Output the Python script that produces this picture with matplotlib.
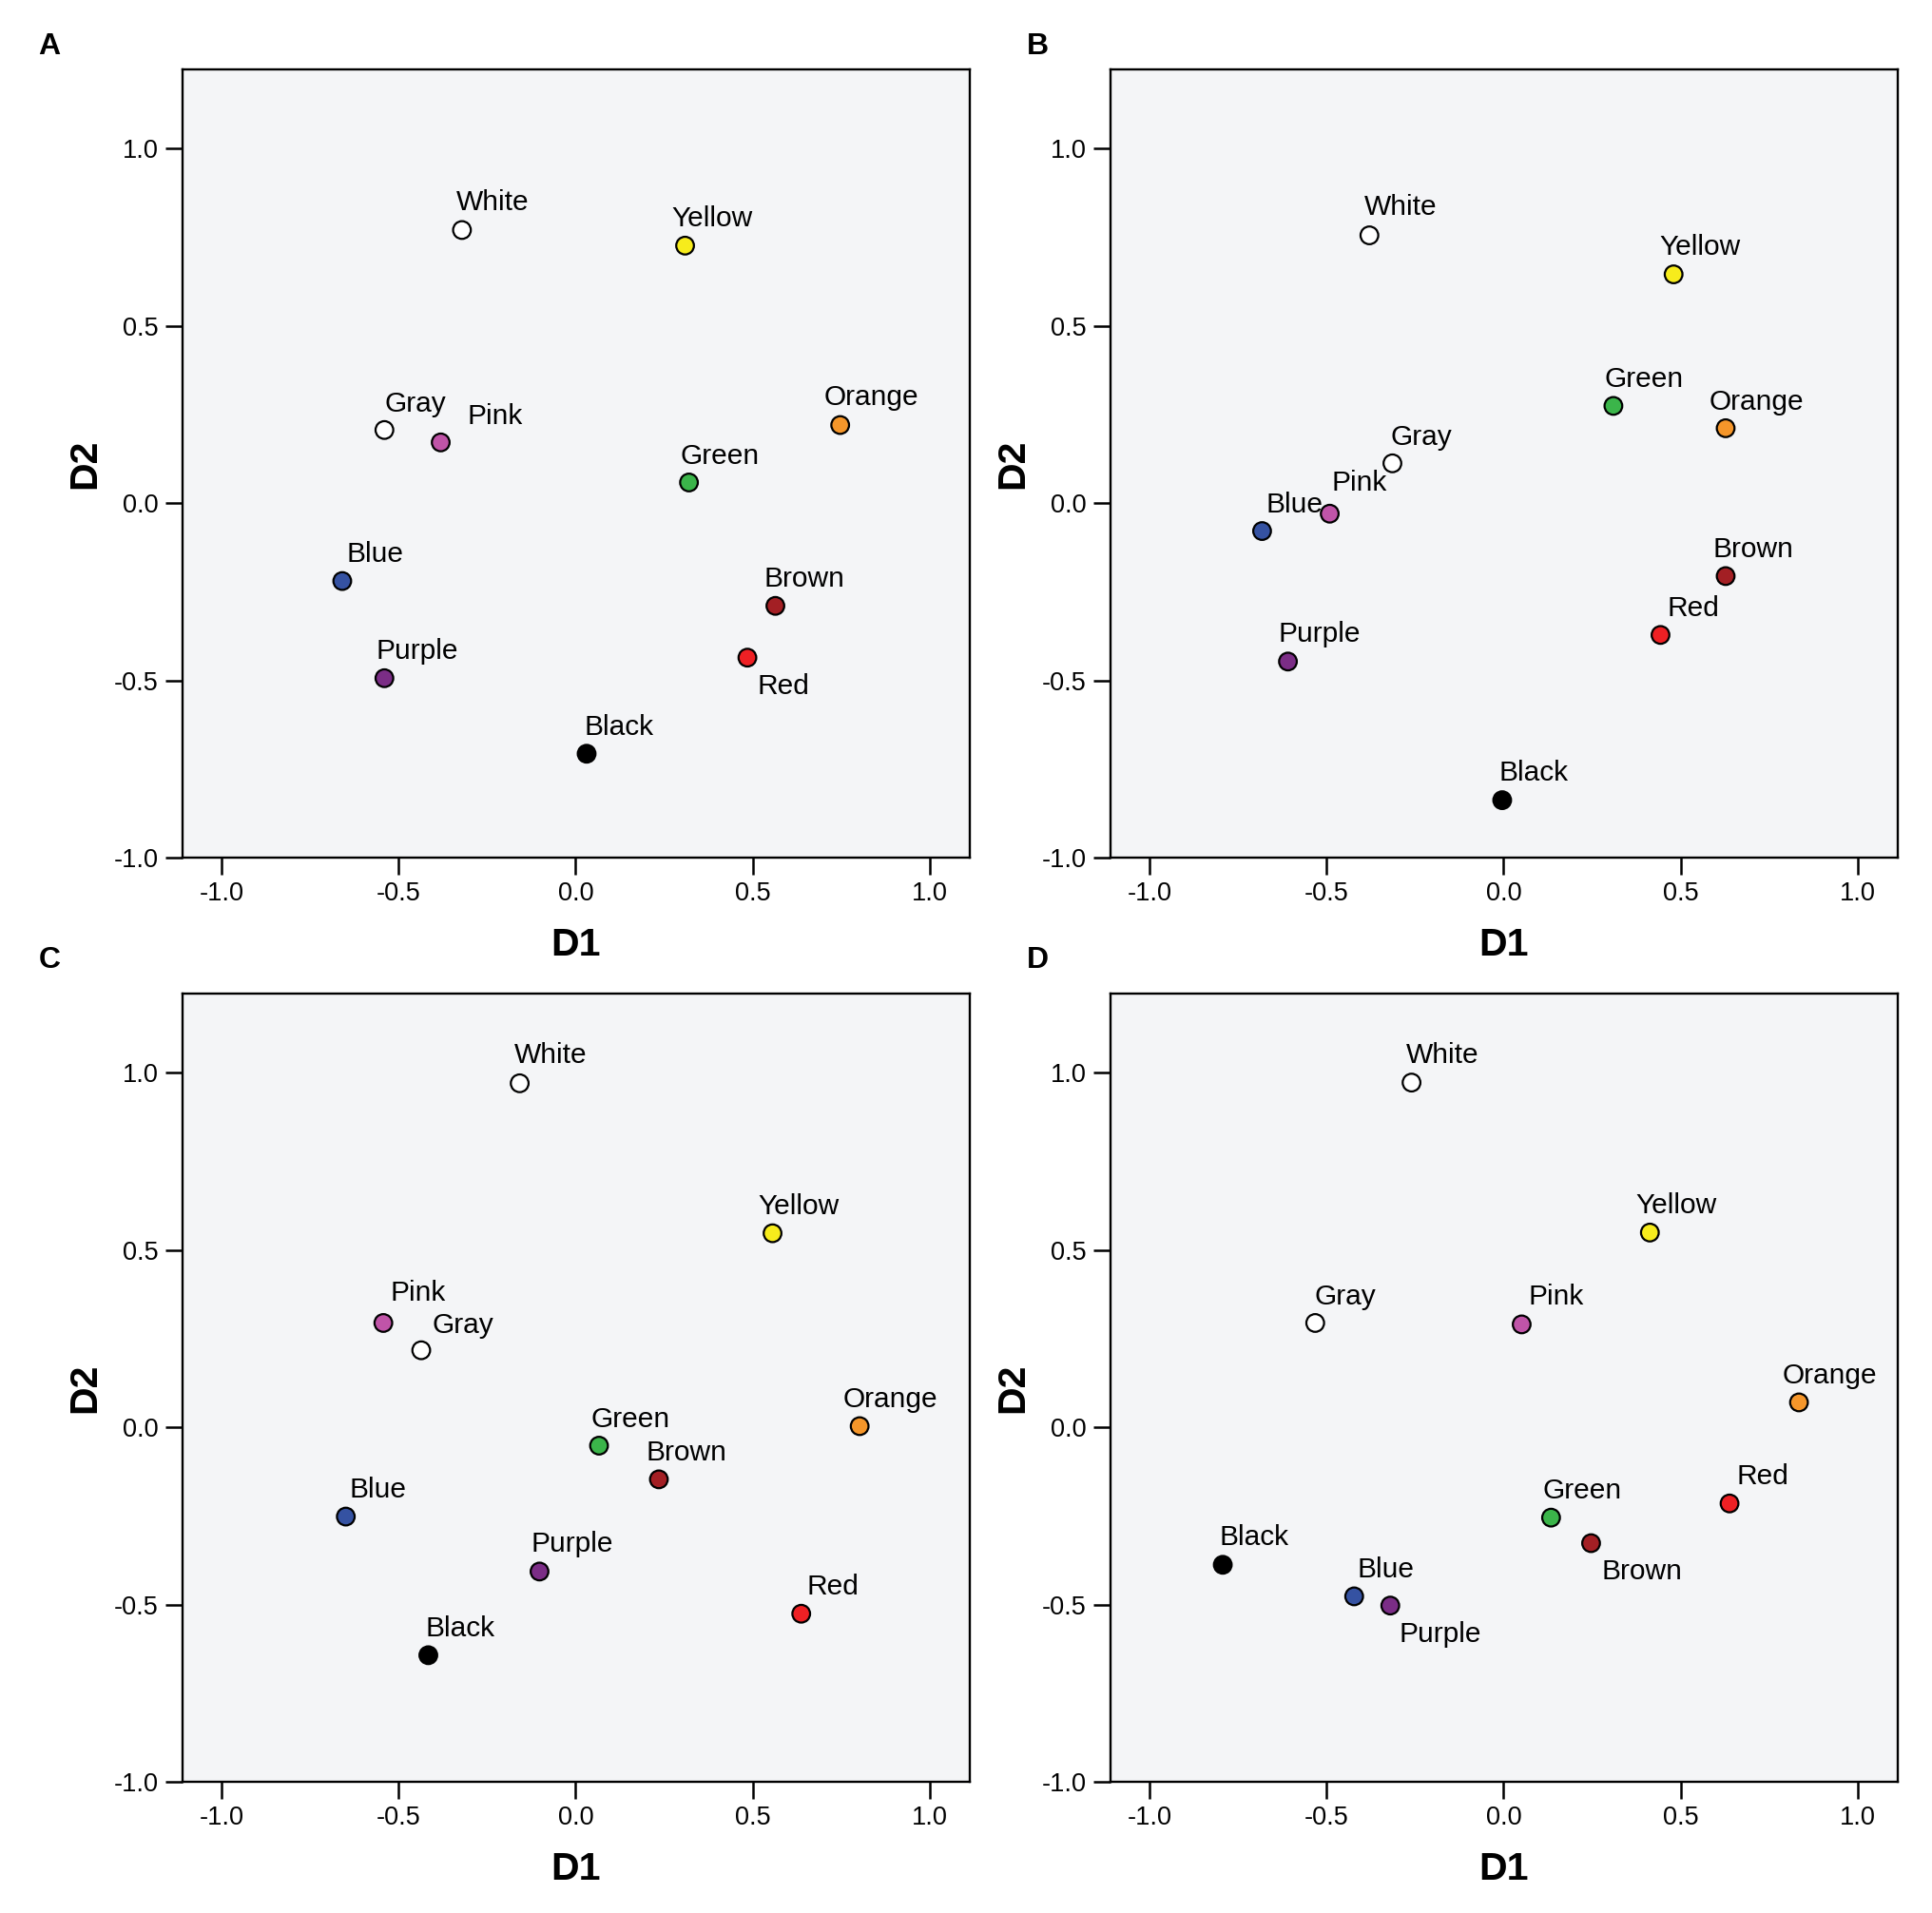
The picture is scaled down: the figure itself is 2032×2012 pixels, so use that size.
import matplotlib
matplotlib.use("Agg")
import matplotlib.pyplot as plt

plt.rcParams['font.family'] = ['Liberation Sans', 'DejaVu Sans']

# ------------------------
# DATA (D1, D2 for each colour term, per panel)
# ------------------------
names = ["White", "Yellow", "Gray", "Pink", "Orange", "Green",
         "Blue", "Brown", "Purple", "Red", "Black"]

fill = {
    "White": "#ffffff", "Yellow": "#f7ec1c", "Gray": "#ffffff",
    "Pink": "#c054a8", "Orange": "#f5962a", "Green": "#3bb54a",
    "Blue": "#3552a2", "Brown": "#a31f24", "Purple": "#7b2d86",
    "Red": "#ee2024", "Black": "#000000",
}

a_d1 = [-0.321, 0.309, -0.540, -0.381, 0.747, 0.320, -0.659, 0.564, -0.540, 0.485, 0.031]
a_d2 = [0.770, 0.726, 0.206, 0.171, 0.220, 0.058, -0.220, -0.290, -0.494, -0.436, -0.707]

b_d1 = [-0.379, 0.480, -0.314, -0.491, 0.627, 0.310, -0.682, 0.627, -0.609, 0.443, -0.004]
b_d2 = [0.755, 0.645, 0.112, -0.030, 0.211, 0.274, -0.079, -0.206, -0.447, -0.372, -0.838]

c_d1 = [-0.158, 0.556, -0.436, -0.543, 0.802, 0.066, -0.649, 0.235, -0.102, 0.637, -0.416]
c_d2 = [0.970, 0.547, 0.217, 0.294, 0.003, -0.052, -0.252, -0.147, -0.407, -0.526, -0.643]

d_d1 = [-0.260, 0.413, -0.532, 0.051, 0.834, 0.134, -0.422, 0.247, -0.320, 0.638, -0.793]
d_d2 = [0.972, 0.549, 0.294, 0.290, 0.070, -0.255, -0.477, -0.327, -0.503, -0.215, -0.388]

ticks = [-1.0, -0.5, 0.0, 0.5, 1.0]
tick_labels = ["-1.0", "-0.5", "0.0", "0.5", "1.0"]

# label offsets in points (dx of text left edge, dy of text centre)
off_a = {"White": (-4, 22.5), "Yellow": (-10, 22.5), "Gray": (0, 21.5), "Pink": (20, 21.5),
         "Orange": (-12.5, 22.5), "Green": (-6.8, 21.5), "Blue": (2.9, 22), "Brown": (-8.7, 22),
         "Purple": (-6.3, 22), "Red": (7.2, -19.7), "Black": (-1.9, 22)}
off_b = {"White": (-4, 23), "Yellow": (-10.5, 22.5), "Gray": (-1.5, 21.5), "Pink": (1.5, 25.5),
         "Orange": (-12.5, 22), "Green": (-7, 22), "Blue": (3, 22), "Brown": (-9.6, 22),
         "Purple": (-7, 22.5), "Red": (5, 22), "Black": (-2.4, 22.5)}
off_c = {"White": (-4, 23), "Yellow": (-11, 22), "Gray": (8, 20.6), "Pink": (5, 24.4),
         "Orange": (-12.5, 22), "Green": (-6.3, 22), "Blue": (3, 22), "Brown": (-9.6, 22),
         "Purple": (-6.3, 22.5), "Red": (4.3, 22.5), "Black": (-2.4, 22)}
off_d = {"White": (-4, 22.5), "Yellow": (-10.6, 22), "Gray": (-0.5, 22), "Pink": (4.8, 22.5),
         "Orange": (-12.5, 22), "Green": (-6.3, 22), "Blue": (2.4, 22), "Brown": (7.7, -19.7),
         "Purple": (6.7, -19.7), "Red": (5.3, 22), "Black": (-2.4, 22.5)}

panels = [
    ("A", a_d1, a_d2, off_a),
    ("B", b_d1, b_d2, off_b),
    ("C", c_d1, c_d2, off_c),
    ("D", d_d1, d_d2, off_d),
]

# ------------------------
# LAYOUT
# ------------------------
W, H = 2033, 2012
fig = plt.figure(figsize=(W / 100, H / 100), dpi=100)

ax_w = 828 / W
ax_h = 829 / H
lefts = [192 / W, 1168 / W]
bottoms = [1 - 902 / H, 1 - 1874 / H]
letter_pos = [(52, 49), (1091, 49), (52, 1010), (1091, 1010)]

for i, (letter, d1, d2, offs) in enumerate(panels):
    row, col = divmod(i, 2)
    ax = fig.add_axes([lefts[col], bottoms[row], ax_w, ax_h])
    ax.set_facecolor("#f4f5f7")

    cols = [fill[n] for n in names]
    ax.scatter(d1, d2, s=180, c=cols, edgecolors="black", linewidths=1.6, zorder=3)

    for n, x, y in zip(names, d1, d2):
        dx, dy = offs[n]
        ax.annotate(n, (x, y), xytext=(dx, dy - 7.7), textcoords="offset points",
                    ha="left", va="baseline", fontsize=21.5)

    ax.set_xlim(-1.11, 1.113)
    ax.set_ylim(-1.0, 1.223)
    ax.set_xticks(ticks)
    ax.set_xticklabels(tick_labels)
    ax.set_yticks(ticks)
    ax.set_yticklabels(tick_labels)
    ax.tick_params(direction="out", length=13, width=1.8, labelsize=19.5, pad=5)
    for sp in ax.spines.values():
        sp.set_linewidth(1.7)

    ax.set_xlabel("D1", fontsize=29.5, fontweight="bold", va="center")
    ax.xaxis.set_label_coords(0.5, -92 / 829)
    ax.set_ylabel("D2", fontsize=29.5, fontweight="bold", va="center")
    ax.yaxis.set_label_coords(-103 / 828, 0.5)

    lx, ly = letter_pos[i]
    fig.text(lx / W, 1 - ly / H, letter, fontsize=23, fontweight="bold",
             ha="center", va="center")

fig.savefig("out.png", dpi=100)
